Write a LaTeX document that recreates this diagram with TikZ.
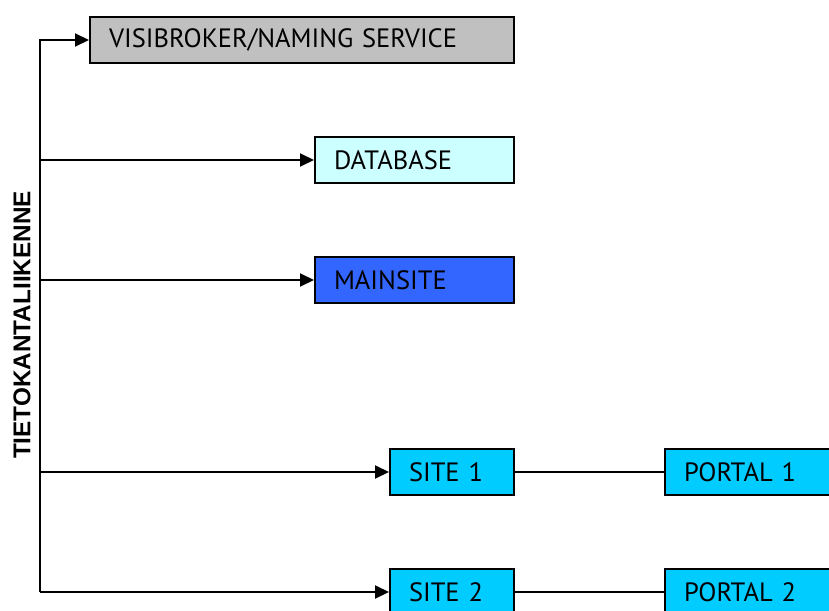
\documentclass[tikz,border=0pt]{standalone}
\usepackage{fontspec}
\setmainfont{PT Sans}
\newfontfamily\lblfont{Liberation Sans}
\usetikzlibrary{arrows.meta}
\definecolor{visgray}{HTML}{C0C0C0}
\definecolor{dbcyan}{HTML}{CCFFFF}
\definecolor{mainblue}{HTML}{3366FF}
\definecolor{sitecyan}{HTML}{00CCFF}
\begin{document}
\begin{tikzpicture}[x=1pt,y=-1pt,
  box/.style={draw=black,line width=2pt,inner xsep=19pt,inner ysep=0pt,
    minimum height=46pt,align=left,anchor=north west,
    font=\fontsize{26.5}{31}\selectfont},
  conn/.style={line width=2pt},
  arr/.style={conn,-{Triangle[length=14pt,width=13pt]}}]
\clip (0,0) rectangle (829,610);
\fill[white] (0,0) rectangle (829,610);
\node[box,fill=visgray,text width=386pt] (vis) at (89,16) {VISIBROKER/NAMING SERVICE};
\node[box,fill=dbcyan,text width=161pt] (db) at (314,136) {DATABASE};
\node[box,fill=mainblue,text width=161pt] (main) at (314,256) {MAINSITE};
\node[box,fill=sitecyan,text width=86pt] (s1) at (389,448) {SITE 1};
\node[box,fill=sitecyan,text width=162pt] (p1) at (664,448) {PORTAL 1};
\node[box,fill=sitecyan,text width=86pt] (s2) at (389,568) {SITE 2};
\node[box,fill=sitecyan,text width=162pt] (p2) at (664,568) {PORTAL 2};
\coordinate (bot) at (40,591);
\coordinate (top) at (vis.west -| bot);
\draw[conn,line cap=rect] (bot) -- (top);
\draw[arr] (top) -- (vis.west);
\draw[arr] (db.west -| bot) -- (db.west);
\draw[arr] (main.west -| bot) -- (main.west);
\draw[arr] (s1.west -| bot) -- (s1.west);
\draw[arr] (s2.west -| bot) -- (s2.west);
\draw[conn] (s1.east) -- (p1.west);
\draw[conn] (s2.east) -- (p2.west);
\node[rotate=90,font={\lblfont\bfseries\fontsize{24.3}{28}\selectfont},inner sep=0pt] (lbl) at (22,325) {TIETOKANTALIIKENNE};
\end{tikzpicture}
\end{document}
